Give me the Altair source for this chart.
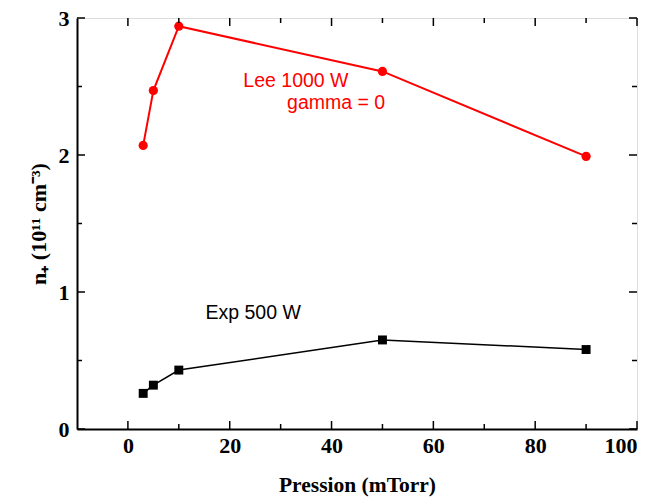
import altair as alt
import pandas as pd

pressure = [3, 5, 10, 50, 90]
lee_1000 = [2.07, 2.47, 2.94, 2.61, 1.99]
exp_500 = [0.26, 0.32, 0.43, 0.65, 0.58]

x_major = [0, 20, 40, 60, 80, 100]
x_minor = [10, 30, 50, 70, 90]
y_major = [0, 1, 2, 3]
y_minor = [0.5, 1.5, 2.5]

notes = [
    {"x": 33.0, "y": 2.54, "t": "Lee 1000 W", "c": "#ff0000"},
    {"x": 40.9, "y": 2.38, "t": "gamma = 0", "c": "#ff0000"},
    {"x": 24.6, "y": 0.85, "t": "Exp 500 W", "c": "#000000"},
]

W, H = 560, 411
serif = "Liberation Serif"

xs = alt.Scale(domain=[-10, 100], nice=False, zero=False)
ys = alt.Scale(domain=[0, 3], nice=False, zero=False)

xaxis = alt.Axis(values=x_major, format="d", ticks=False, grid=False,
                 labelFont=serif, labelFontSize=22, labelFontWeight="bold",
                 labelColor="black", labelPadding=6,
                 title="Pression (mTorr)", titleFont=serif, titleFontSize=21.5,
                 titleFontWeight="bold", titleColor="black", titlePadding=18,
                 domainColor="black", domainWidth=2)
yaxis = alt.Axis(values=y_major, format="d", ticks=False, grid=False,
                 labelFont=serif, labelFontSize=22, labelFontWeight="bold",
                 labelColor="black", labelPadding=8,
                 title="n₊ (10¹¹ cm⁻³)", titleFont=serif, titleFontSize=22,
                 titleFontWeight="bold", titleColor="black", titlePadding=8,
                 domainColor="black", domainWidth=2)

df = pd.DataFrame({"p": pressure, "lee": lee_1000, "exp": exp_500})

base = alt.Chart(df)
lee_line = base.mark_line(color="#ff0000", strokeWidth=2).encode(
    x=alt.X("p:Q", scale=xs, axis=xaxis), y=alt.Y("lee:Q", scale=ys, axis=yaxis))
lee_pts = base.mark_point(color="#ff0000", filled=True, opacity=1, size=85, shape="circle").encode(
    x=alt.X("p:Q", scale=xs), y=alt.Y("lee:Q", scale=ys))
exp_line = base.mark_line(color="black", strokeWidth=1.5).encode(
    x=alt.X("p:Q", scale=xs), y=alt.Y("exp:Q", scale=ys))
exp_pts = base.mark_point(color="black", filled=True, opacity=1, size=80, shape="square").encode(
    x=alt.X("p:Q", scale=xs), y=alt.Y("exp:Q", scale=ys))

ndf = pd.DataFrame(notes)
txt = alt.Chart(ndf).mark_text(font="Liberation Sans", fontSize=19.5, align="center", baseline="middle").encode(
    x=alt.X("x:Q", scale=xs), y=alt.Y("y:Q", scale=ys),
    text="t:N", color=alt.Color("c:N", scale=None))

def xticks(vals, length):
    d = pd.DataFrame({"v": vals})
    b = alt.Chart(d).mark_rule(color="black", strokeWidth=1.5).encode(
        x=alt.X("v:Q", scale=xs), y=alt.value(H), y2=alt.value(H - length))
    t = alt.Chart(d).mark_rule(color="black", strokeWidth=1.5).encode(
        x=alt.X("v:Q", scale=xs), y=alt.value(0), y2=alt.value(length))
    return b + t

def yticks(vals, length):
    d = pd.DataFrame({"v": vals})
    l = alt.Chart(d).mark_rule(color="black", strokeWidth=1.5).encode(
        y=alt.Y("v:Q", scale=ys), x=alt.value(0), x2=alt.value(length))
    r = alt.Chart(d).mark_rule(color="black", strokeWidth=1.5).encode(
        y=alt.Y("v:Q", scale=ys), x=alt.value(W), x2=alt.value(W - length))
    return l + r

chart = alt.layer(
    lee_line, exp_line, lee_pts, exp_pts, txt,
    xticks(x_major, 8), xticks(x_minor, 5), yticks(y_major, 8), yticks(y_minor, 5),
).properties(
    width=W, height=H,
    autosize=alt.AutoSizeParams(type="none"),
    padding={"left": 69, "top": 10, "right": 10, "bottom": 73},
).configure_view(stroke="black", strokeWidth=2).configure(background="white")

chart.save("out.html", embed_options={"renderer": "svg", "actions": False})
